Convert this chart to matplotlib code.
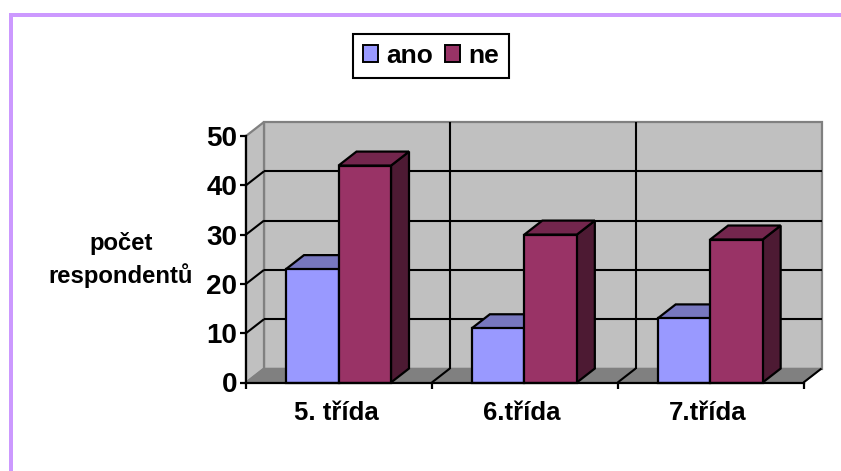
import matplotlib
matplotlib.use('Agg')
from matplotlib import pyplot as plt
import matplotlib.patches as patches

categories = ['5. třída', '6.třída', '7.třída']
ano = [23, 11, 13]
ne = [44, 30, 29]
yticks = [0, 10, 20, 30, 40, 50]

W, H = 841, 471
plt.rcParams['font.family'] = ['Liberation Sans', 'DejaVu Sans']
plt.rcParams['font.weight'] = 'bold'

fig = plt.figure(figsize=(W / 100, H / 100), dpi=100)
# axes sits on the front plane of the fake 3d box
left, right, top, bottom = 246, 803.5, 136, 382.5
ax = fig.add_axes([left / W, 1 - bottom / H, (right - left) / W, (bottom - top) / H])
ax.set_xlim(0, 3)
ax.set_ylim(0, 50)
ax.patch.set_visible(False)

# depth of the box in data units
dx = 18 / ((right - left) / 3)
dy = 14 / ((bottom - top) / 50)


def poly(pts, fc, ec='black', lw=1.6, z=2):
    ax.add_patch(patches.Polygon(pts, closed=True, facecolor=fc, edgecolor=ec, linewidth=lw,
                                 zorder=z, clip_on=False, joinstyle='miter'))


def line(xs, ys, color='black', lw=1.5, z=1.5):
    ax.plot(xs, ys, color=color, linewidth=lw, zorder=z, clip_on=False, solid_capstyle='butt')


# walls and floor
poly([(dx, dy), (3 + dx, dy), (3 + dx, 50 + dy), (dx, 50 + dy)], '#C0C0C0', '#808080', 1.6, 1)
poly([(0, 0), (dx, dy), (dx, 50 + dy), (0, 50)], '#C0C0C0', '#808080', 1.6, 1)
poly([(0, 0), (3, 0), (3 + dx, dy), (dx, dy)], '#808080', '#808080', 1.0, 1)

for v in yticks[1:-1]:
    line([dx, 3 + dx], [v + dy, v + dy])
    line([0, dx], [v, v + dy])
for c in range(1, 3):
    line([c + dx, c + dx], [dy, 50 + dy])
    line([c, c + dx], [0, dy])
line([3, 3 + dx], [0, dy])

# bars
bar_w = 52.5 / ((right - left) / 3)
start = 40 / ((right - left) / 3)
series = [(ano, '#9999FF', '#7777BF', '#4D4D80'), (ne, '#993366', '#73264D', '#4D1A33')]
for s, (vals, front, roof, side) in enumerate(series):
    for c, v in enumerate(vals):
        x0 = c + start + s * bar_w
        x1 = x0 + bar_w
        poly([(x1, 0), (x1 + dx, dy), (x1 + dx, v + dy), (x1, v)], side, z=3 + s)
        poly([(x0, v), (x1, v), (x1 + dx, v + dy), (x0 + dx, v + dy)], roof, z=3 + s)
        poly([(x0, 0), (x1, 0), (x1, v), (x0, v)], front, z=3 + s)

# axes
for name in ['top', 'right']:
    ax.spines[name].set_visible(False)
for name in ['left', 'bottom']:
    ax.spines[name].set_linewidth(1.6)
    ax.spines[name].set_zorder(6)
ax.set_yticks(yticks)
ax.set_xticks([0, 1, 2, 3])
ax.set_xticklabels([])
# labels sit a little left of the category centre
label_shift = 3 / ((right - left) / 3)
ax.set_xticks([c + 0.5 - label_shift for c in range(3)], minor=True)
ax.set_xticklabels(categories, minor=True, fontsize=18.5)
ax.tick_params(axis='x', which='minor', length=0, pad=13)
ax.tick_params(axis='x', which='major', length=4, width=1.6)
ax.tick_params(axis='y', length=4, width=1.6, labelsize=20, pad=2.2)

fig.text(121 / W, 1 - 260 / H, 'počet\nrespondentů', ha='center', va='center', fontsize=17.2,
         linespacing=1.38)

# legend
handles = [patches.Patch(facecolor='#9999FF', edgecolor='black', linewidth=1.4, label='ano'),
           patches.Patch(facecolor='#993366', edgecolor='black', linewidth=1.4, label='ne')]
fig.legend(handles=handles, loc='center', bbox_to_anchor=(431 / W, 1 - 56 / H), ncol=2, fontsize=19,
           fancybox=False, framealpha=1, edgecolor='black', handlelength=0.58, handleheight=0.58,
           handletextpad=0.3, columnspacing=0.45, borderpad=0.38).get_frame().set_linewidth(1.5)

# lilac frame of the slide
fig.add_artist(patches.Rectangle((9 / W, 0), 4 / W, 1 - 13 / H, facecolor='#CC99FF', edgecolor='none',
                                 transform=fig.transFigure))
fig.add_artist(patches.Rectangle((9 / W, 1 - 17 / H), 1 - 9 / W, 4 / H, facecolor='#CC99FF',
                                 edgecolor='none', transform=fig.transFigure))

fig.savefig('out.png', dpi=100)
